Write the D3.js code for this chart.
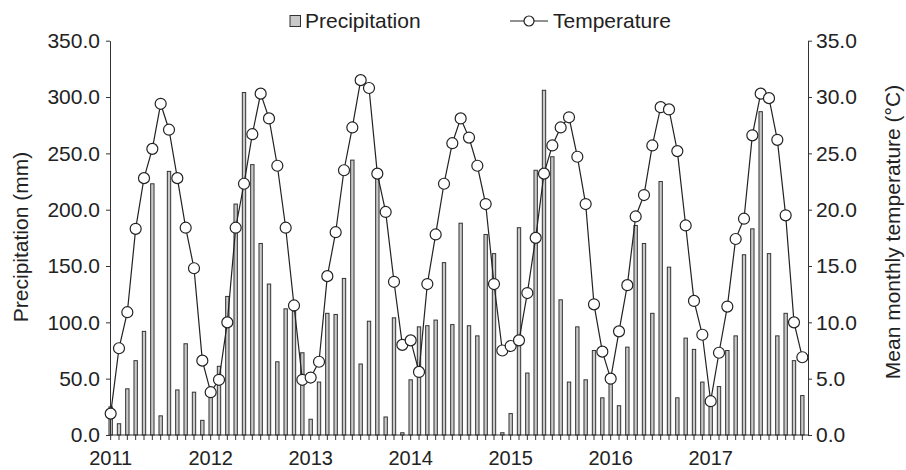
<!DOCTYPE html>
<html>
<head>
<meta charset="utf-8">
<script src="https://cdn.jsdelivr.net/npm/d3@7"></script>
<style>
  body { margin: 0; background: #fff; }
  text { font-family: "Liberation Sans", Arial, sans-serif; fill: #222; }
</style>
</head>
<body>
<div id="chart"></div>
<script>
document.addEventListener("DOMContentLoaded", function() {

// years shown on the x axis (one label per January)
const years = ["2011", "2012", "2013", "2014", "2015", "2016", "2017"];

// monthly precipitation (mm), Jan 2011 .. Dec 2017
const precipitation = [
  25, 10, 41, 66, 92, 223, 17, 234, 40, 81, 38, 13,
  40, 61, 123, 205, 304, 240, 170, 134, 65, 112, 110, 73,
  14, 47, 108, 107, 139, 244, 63, 101, 231, 16, 104, 2,
  49, 96, 97, 102, 153, 98, 188, 97, 88, 178, 161, 2,
  19, 184, 55, 235, 306, 247, 120, 47, 96, 49, 75, 33,
  50, 26, 78, 186, 170, 108, 225, 149, 33, 86, 76, 47,
  30, 43, 75, 88, 160, 183, 287, 161, 88, 108, 66, 35
];

// mean monthly temperature (°C)
const temperature = [
  1.9, 7.7, 10.9, 18.3, 22.8, 25.4, 29.4, 27.1, 22.8, 18.4, 14.8, 6.6,
  3.8, 4.9, 10.0, 18.4, 22.3, 26.7, 30.3, 28.1, 23.9, 18.4, 11.5, 4.9,
  5.1, 6.5, 14.1, 18.0, 23.5, 27.3, 31.5, 30.8, 23.2, 19.8, 13.6, 8.0,
  8.4, 5.6, 13.4, 17.8, 22.3, 25.9, 28.1, 26.4, 23.9, 20.5, 13.4, 7.5,
  7.9, 8.4, 12.6, 17.5, 23.2, 25.7, 27.3, 28.2, 24.7, 20.5, 11.6, 7.4,
  5.0, 9.2, 13.3, 19.4, 21.3, 25.7, 29.1, 28.9, 25.2, 18.6, 11.9, 8.9,
  3.0, 7.3, 11.4, 17.4, 19.2, 26.6, 30.3, 29.9, 26.2, 19.5, 10.0, 6.9
];

const precipTicks = [0, 50, 100, 150, 200, 250, 300, 350];
const tempTicks = [0, 5, 10, 15, 20, 25, 30, 35];

const width = 906, height = 470;
const left = 110, right = 808, top = 40.7, bottom = 435;
const fs = "21px";

const svg = d3.select("#chart").append("svg")
  .attr("width", width)
  .attr("height", height);

const months = d3.range(precipitation.length);

const x = d3.scaleBand()
  .domain(months)
  .range([106.5, 806.5])
  .paddingInner(0.5)
  .paddingOuter(0.25);

const yP = d3.scaleLinear().domain([0, 350]).range([bottom, top]);
const yT = d3.scaleLinear().domain([0, 35]).range([bottom, top]);

// bars
svg.append("g")
  .selectAll("rect")
  .data(precipitation)
  .join("rect")
  .attr("x", (d, i) => x(i) + 0.4)
  .attr("y", d => yP(d))
  .attr("width", x.bandwidth() - 0.8)
  .attr("height", d => bottom - yP(d))
  .attr("fill", "#c9c9c9")
  .attr("stroke", "#333")
  .attr("stroke-width", 1);

// x axis
const xAxis = svg.append("g")
  .attr("transform", `translate(0,${bottom})`)
  .call(d3.axisBottom(x)
    .tickSizeInner(5)
    .tickSizeOuter(0)
    .tickPadding(11)
    .tickFormat(i => i % 12 === 0 ? years[i / 12] : ""));
xAxis.select(".domain").remove();
xAxis.selectAll("line").attr("stroke", "#333");
xAxis.selectAll("text").style("font-size", "20px");

svg.append("line")
  .attr("x1", left).attr("x2", right)
  .attr("y1", bottom).attr("y2", bottom)
  .attr("stroke", "#333");

// left axis
const yAxisL = svg.append("g")
  .attr("transform", `translate(${left},0)`)
  .call(d3.axisLeft(yP)
    .tickValues(precipTicks)
    .tickFormat(d3.format(".1f"))
    .tickSizeInner(4)
    .tickSizeOuter(0)
    .tickPadding(6));
yAxisL.selectAll("line, path").attr("stroke", "#333");
yAxisL.selectAll("text").style("font-size", fs);

// right axis
const yAxisR = svg.append("g")
  .attr("transform", `translate(${right},0)`)
  .call(d3.axisRight(yT)
    .tickValues(tempTicks)
    .tickFormat(d3.format(".1f"))
    .tickSizeInner(4)
    .tickSizeOuter(0)
    .tickPadding(4));
yAxisR.selectAll("line, path").attr("stroke", "#333");
yAxisR.selectAll("text").style("font-size", fs);

// temperature line
const line = d3.line()
  .x((d, i) => x(i) + x.bandwidth() / 2)
  .y(d => yT(d));

svg.append("path")
  .datum(temperature)
  .attr("d", line)
  .attr("fill", "none")
  .attr("stroke", "#222")
  .attr("stroke-width", 1.2);

svg.append("g")
  .selectAll("circle")
  .data(temperature)
  .join("circle")
  .attr("cx", (d, i) => x(i) + x.bandwidth() / 2)
  .attr("cy", d => yT(d))
  .attr("r", 5.5)
  .attr("fill", "#fff")
  .attr("stroke", "#222")
  .attr("stroke-width", 1.2);

// axis titles
svg.append("text")
  .attr("transform", "translate(28,237) rotate(-90)")
  .attr("text-anchor", "middle")
  .style("font-size", fs)
  .text("Precipitation (mm)");

svg.append("text")
  .attr("transform", "translate(900,232) rotate(-90)")
  .attr("text-anchor", "middle")
  .style("font-size", fs)
  .text("Mean monthly temperature (°C)");

// legend
svg.append("rect")
  .attr("x", 290).attr("y", 15.5)
  .attr("width", 10.5).attr("height", 11)
  .attr("fill", "#c9c9c9")
  .attr("stroke", "#333");
svg.append("text")
  .attr("x", 305).attr("y", 28)
  .style("font-size", fs)
  .text("Precipitation");

svg.append("line")
  .attr("x1", 510).attr("x2", 548)
  .attr("y1", 21).attr("y2", 21)
  .attr("stroke", "#222").attr("stroke-width", 1.2);
svg.append("circle")
  .attr("cx", 529).attr("cy", 21).attr("r", 5)
  .attr("fill", "#fff")
  .attr("stroke", "#222").attr("stroke-width", 1.2);
svg.append("text")
  .attr("x", 553).attr("y", 28)
  .style("font-size", fs)
  .text("Temperature");

});
</script>
</body>
</html>
